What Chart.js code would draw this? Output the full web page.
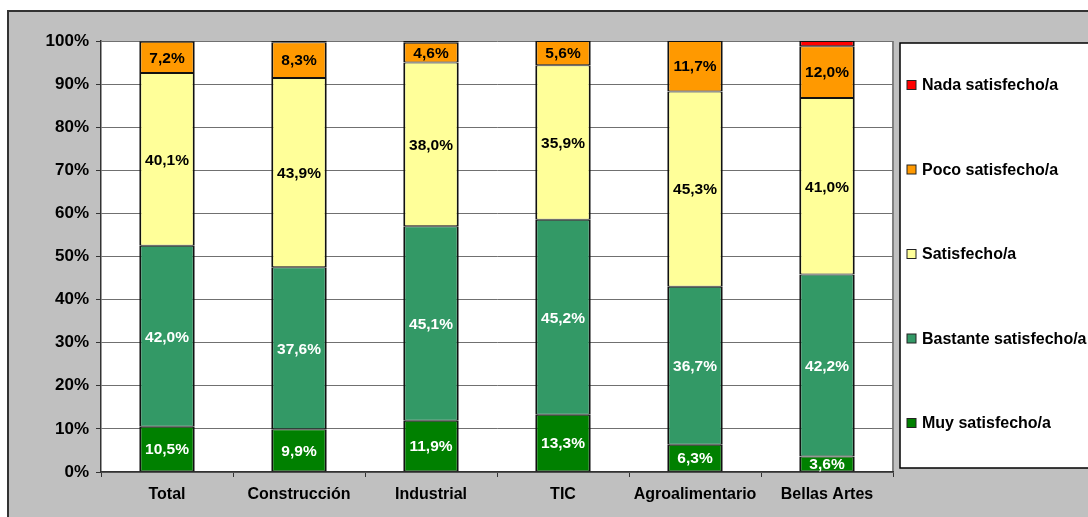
<!DOCTYPE html>
<html lang="es">
<head>
  <meta charset="UTF-8" />
  <title>Satisfacción por sector</title>
  <script src="https://cdn.jsdelivr.net/npm/chart.js"></script>
  <style>
    body { margin: 0; background: #fff; }
    #wrap { position: relative; width: 1088px; height: 517px; }
  </style>
</head>
<body>
  <div id="wrap"><canvas id="chart"></canvas></div>

  <script>
    const categories = ['Total', 'Construcción', 'Industrial', 'TIC', 'Agroalimentario', 'Bellas Artes'];
    const muy      = [10.5, 9.9, 11.9, 13.3, 6.3, 3.6];
    const bastante = [42.0, 37.6, 45.1, 45.2, 36.7, 42.2];
    const satisf   = [40.1, 43.9, 38.0, 35.9, 45.3, 41.0];
    const poco     = [7.2, 8.3, 4.6, 5.6, 11.7, 12.0];
    const nada     = [0.2, 0.3, 0.4, 0, 0, 1.2];
    const yTicks   = [0, 10, 20, 30, 40, 50, 60, 70, 80, 90, 100];

    const FONT = 'Arial, "Liberation Sans", sans-serif';

    // fondo gris con borde, y borde del área de trazado
    const background = {
      id: 'background',
      beforeDraw(chart) {
        const ctx = chart.ctx, a = chart.chartArea;
        ctx.save();
        ctx.fillStyle = '#c0c0c0';
        ctx.fillRect(8, 11, 1080, 506);
        ctx.strokeStyle = '#333';
        ctx.lineWidth = 2;
        ctx.beginPath();
        ctx.moveTo(8, 517); ctx.lineTo(8, 11); ctx.lineTo(1088, 11);
        ctx.stroke();
        ctx.fillStyle = '#fff';
        ctx.fillRect(a.left, a.top, a.right - a.left, a.bottom - a.top);
        ctx.strokeStyle = '#808080';
        ctx.beginPath();
        ctx.moveTo(a.right, a.top); ctx.lineTo(a.right, a.bottom);
        ctx.stroke();
        ctx.restore();
      }
    };

    // etiquetas de valores y leyenda a la derecha
    const labelsAndLegend = {
      id: 'labelsAndLegend',
      afterDatasetsDraw(chart) {
        const ctx = chart.ctx;
        ctx.save();
        ctx.font = 'bold 15.5px ' + FONT;
        ctx.textAlign = 'center';
        ctx.textBaseline = 'middle';
        chart.data.datasets.forEach((ds, i) => {
          if (!ds.showLabels) return;
          chart.getDatasetMeta(i).data.forEach((bar, j) => {
            const v = ds.data[j];
            if (!v) return;
            ctx.fillStyle = ds.labelColor;
            ctx.fillText(v.toFixed(1).replace('.', ',') + '%', bar.x, (bar.y + bar.base) / 2 + 1);
          });
        });
        ctx.restore();
      },
      afterDraw(chart) {
        const ctx = chart.ctx;
        ctx.save();
        ctx.fillStyle = '#fff';
        ctx.fillRect(900, 43, 200, 425);
        ctx.strokeStyle = '#000';
        ctx.lineWidth = 1.5;
        ctx.strokeRect(900, 43, 200, 425);
        ctx.font = 'bold 16px ' + FONT;
        ctx.textBaseline = 'middle';
        const ds = chart.data.datasets.slice().reverse();
        ds.forEach((d, k) => {
          const y = 85 + k * 84.5;
          ctx.fillStyle = d.backgroundColor;
          ctx.fillRect(907, y - 4.5, 9, 9);
          ctx.strokeStyle = '#222';
          ctx.lineWidth = 1;
          ctx.strokeRect(907, y - 4.5, 9, 9);
          ctx.fillStyle = '#000';
          ctx.fillText(d.label, 922, y + 1);
        });
        ctx.restore();
      }
    };

    const common = { borderColor: '#111', borderWidth: { top: 1, bottom: 1, left: 2, right: 2 },
                     borderSkipped: false, barPercentage: 0.42, categoryPercentage: 1 };

    new Chart(document.getElementById('chart'), {
      type: 'bar',
      data: {
        labels: categories,
        datasets: [
          { ...common, label: 'Muy satisfecho/a', data: muy, backgroundColor: '#008000', showLabels: true, labelColor: '#fff' },
          { ...common, label: 'Bastante satisfecho/a', data: bastante, backgroundColor: '#339966', showLabels: true, labelColor: '#fff' },
          { ...common, label: 'Satisfecho/a', data: satisf, backgroundColor: '#ffff99', showLabels: true, labelColor: '#000' },
          { ...common, label: 'Poco satisfecho/a', data: poco, backgroundColor: '#ff9900', showLabels: true, labelColor: '#000' },
          { ...common, label: 'Nada satisfecho/a', data: nada, backgroundColor: '#ff0000', showLabels: false }
        ]
      },
      options: {
        responsive: true,
        maintainAspectRatio: false,
        animation: false,
        layout: { padding: { left: 8, top: 41, right: 195, bottom: 0 } },
        plugins: { legend: { display: false }, tooltip: { enabled: false } },
        scales: {
          x: {
            stacked: true,
            afterFit(scale) { scale.height = 45; },
            grid: { drawOnChartArea: false, drawTicks: true, tickLength: 5, color: '#333', offset: true },
            border: { color: '#333', width: 1.5 },
            ticks: { color: '#000', font: { family: FONT, size: 16, weight: 'bold' }, padding: 8, maxRotation: 0 }
          },
          y: {
            stacked: true,
            min: 0,
            max: 100,
            afterFit(scale) { scale.width = 93; },
            afterBuildTicks(scale) { scale.ticks = yTicks.map(v => ({ value: v })); },
            grid: { color: '#707070', lineWidth: 1, tickLength: 5, tickColor: '#333' },
            border: { color: '#333', width: 1.5 },
            ticks: { color: '#000', font: { family: FONT, size: 17, weight: 'bold' }, padding: 7,
                     callback: v => v + '%' }
          }
        }
      },
      plugins: [background, labelsAndLegend]
    });
  </script>
</body>
</html>
